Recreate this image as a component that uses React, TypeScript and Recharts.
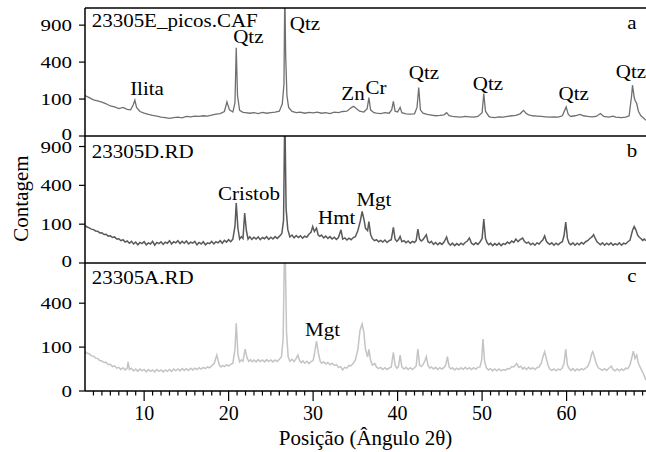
import React from 'react';
import { LineChart, Line, XAxis, YAxis, ReferenceLine, ReferenceDot } from 'recharts';

const FONT = '"Liberation Serif", "Times New Roman", serif';

// X axis (2θ)
const xDomain: [number, number] = [3, 69.4];
const majorXTicks = [10, 20, 30, 40, 50, 60];
const allXTicks = [4, 5, 6, 7, 8, 9, 10, 11, 12, 13, 14, 15, 16, 17, 18, 19, 20, 21, 22, 23, 24, 25, 26, 27, 28, 29, 30, 31, 32, 33, 34, 35, 36, 37, 38, 39, 40, 41, 42, 43, 44, 45, 46, 47, 48, 49, 50, 51, 52, 53, 54, 55, 56, 57, 58, 59, 60, 61, 62, 63, 64, 65, 66, 67, 68, 69];

// Y axis ticks (square-root count scale)
const yTicksAB = [0, 100, 400, 900];
const yTicksC = [0, 100, 400];
const yDomainA: [number, number] = [0, 1200];
const yDomainB: [number, number] = [0, 1070];
const yDomainC: [number, number] = [0, 850];

// Panel a: 23305E_picos.CAF  [2θ, counts]
const patternA: [number, number][] = [
  [3, 120], [3.5, 108], [4, 96], [4.5, 90], [5, 84], [5.5, 76], [6, 66], [6.5, 62], [7, 55], [7.5, 60], [8, 52], [8.4, 50], [8.7, 70], [8.9, 94], [9.1, 60], [9.5, 44],
  [10, 38], [10.5, 34], [11, 31], [11.5, 29], [12, 26], [12.5, 25], [13, 23], [13.5, 25], [14, 26], [14.5, 24], [15, 28], [15.5, 27], [16, 29], [16.5, 28], [17, 30], [17.5, 29],
  [18, 32], [18.5, 35], [19, 37], [19.5, 44], [19.8, 85], [20.1, 50], [20.5, 42], [20.75, 80], [20.9, 569], [21.05, 120], [21.3, 48], [21.7, 41], [22, 40], [22.5, 38], [23, 40],
  [23.5, 37], [24, 41], [24.5, 38], [25, 40], [25.5, 42], [26, 45], [26.35, 75], [26.55, 200], [26.65, 1600], [26.75, 480], [26.9, 120], [27.1, 60], [27.5, 44], [28, 40],
  [28.5, 42], [29, 38], [29.5, 41], [30, 39], [30.5, 42], [31, 38], [31.5, 40], [32, 37], [32.5, 42], [33, 40], [33.5, 44], [34, 45], [34.5, 58], [34.8, 65], [35.1, 55],
  [35.5, 45], [36, 42], [36.4, 55], [36.6, 108], [36.8, 50], [37.2, 40], [37.5, 38], [38, 37], [38.5, 40], [39, 38], [39.3, 50], [39.5, 88], [39.7, 45], [40, 42], [40.3, 60],
  [40.5, 40], [41, 36], [41.5, 35], [42, 36], [42.3, 60], [42.5, 172], [42.7, 50], [43, 38], [43.5, 34], [44, 32], [44.5, 30], [45, 31], [45.5, 33], [45.8, 40], [46.1, 30],
  [46.5, 28], [47, 27], [47.5, 26], [48, 28], [48.5, 27], [49, 26], [49.5, 28], [50, 40], [50.2, 132], [50.4, 45], [50.8, 28], [51, 26], [51.5, 25], [52, 27], [52.5, 26],
  [53, 28], [53.5, 30], [54, 31], [54.5, 36], [54.9, 48], [55.2, 38], [55.5, 33], [56, 30], [56.5, 29], [57, 28], [57.5, 27], [58, 26], [58.5, 27], [59, 26], [59.5, 30],
  [59.8, 50], [59.95, 62], [60.2, 34], [60.5, 28], [61, 30], [61.6, 34], [62, 30], [62.5, 28], [63, 27], [63.5, 28], [64, 37], [64.4, 28], [65, 26], [65.5, 29], [65.8, 26],
  [66.5, 25], [67, 26], [67.4, 30], [67.7, 120], [67.8, 189], [68, 110], [68.1, 94], [68.3, 77], [68.5, 45], [68.8, 30], [69, 26], [69.4, 18],
];

// Panel b: 23305D.RD
const patternB: [number, number][] = [
  [3, 93], [3.25, 86], [3.5, 82], [3.75, 76], [4, 74], [4.25, 68], [4.5, 67], [4.75, 60], [5, 61], [5.25, 54], [5.5, 55], [5.75, 48], [6, 49], [6.25, 43], [6.5, 45], [6.75, 38],
  [7, 39], [7.25, 33], [7.5, 36], [7.75, 29], [8, 32], [8.25, 26], [8.5, 31], [8.75, 24], [9, 29], [9.25, 22], [9.5, 28], [9.75, 25], [10, 30], [10.25, 22], [10.5, 27],
  [10.75, 24], [11, 31], [11.25, 21], [11.5, 28], [11.75, 25], [12, 30], [12.25, 23], [12.5, 29], [12.75, 26], [13, 33], [13.25, 24], [13.5, 30], [13.75, 27], [14, 33],
  [14.25, 25], [14.5, 31], [14.75, 26], [15, 32], [15.25, 24], [15.5, 29], [15.75, 26], [16, 31], [16.25, 22], [16.5, 28], [16.75, 24], [17, 30], [17.25, 22], [17.5, 27],
  [17.75, 25], [18, 31], [18.25, 24], [18.5, 30], [18.75, 27], [19, 33], [19.25, 26], [19.5, 34], [19.75, 29], [20, 36], [20.25, 30], [20.5, 38], [20.75, 90], [20.9, 238],
  [21.1, 80], [21.3, 38], [21.5, 46], [21.7, 40], [21.9, 165], [22.1, 70], [22.3, 38], [22.5, 46], [22.75, 37], [23, 44], [23.25, 38], [23.5, 45], [23.75, 36], [24, 43],
  [24.25, 39], [24.5, 46], [24.75, 37], [25, 44], [25.25, 38], [25.5, 46], [25.75, 40], [26, 47], [26.3, 58], [26.5, 120], [26.65, 1600], [26.8, 200], [27, 75], [27.25, 45],
  [27.5, 52], [27.75, 42], [28, 50], [28.25, 43], [28.5, 49], [28.75, 41], [29, 48], [29.25, 44], [29.5, 55], [29.75, 62], [29.95, 88], [30.15, 66], [30.4, 81], [30.6, 52],
  [30.8, 47], [31, 52], [31.25, 42], [31.5, 48], [31.75, 40], [32, 46], [32.25, 38], [32.5, 44], [32.75, 37], [33, 43], [33.3, 73], [33.5, 38], [33.75, 42], [34, 35],
  [34.25, 41], [34.5, 36], [34.75, 43], [35, 46], [35.3, 70], [35.6, 120], [35.8, 176], [36, 130], [36.2, 80], [36.45, 70], [36.6, 114], [36.8, 55], [37, 40], [37.25, 33],
  [37.5, 36], [37.75, 30], [38, 34], [38.25, 29], [38.5, 35], [38.75, 28], [39, 33], [39.25, 36], [39.5, 84], [39.7, 38], [39.9, 31], [40.1, 36], [40.3, 47], [40.5, 30],
  [40.75, 33], [41, 27], [41.25, 32], [41.5, 26], [41.75, 31], [42, 28], [42.2, 34], [42.4, 76], [42.6, 38], [42.8, 32], [43, 36], [43.4, 53], [43.6, 30], [43.8, 27],
  [44, 31], [44.25, 23], [44.5, 28], [44.75, 22], [45, 27], [45.25, 23], [45.5, 29], [45.8, 45], [46, 27], [46.25, 21], [46.5, 26], [46.75, 20], [47, 25], [47.25, 21],
  [47.5, 26], [47.75, 22], [48, 28], [48.25, 32], [48.5, 41], [48.75, 26], [49, 22], [49.25, 27], [49.5, 23], [49.75, 29], [50, 40], [50.2, 128], [50.4, 40], [50.6, 27],
  [50.8, 22], [51, 26], [51.25, 20], [51.5, 25], [51.75, 21], [52, 26], [52.25, 20], [52.5, 25], [52.75, 23], [53, 29], [53.25, 25], [53.5, 32], [53.75, 28], [54, 38],
  [54.25, 30], [54.5, 36], [54.8, 41], [55, 31], [55.25, 26], [55.5, 29], [55.75, 22], [56, 26], [56.25, 21], [56.5, 27], [56.75, 24], [57, 31], [57.2, 36], [57.4, 49],
  [57.6, 32], [57.8, 26], [58, 23], [58.25, 27], [58.5, 21], [58.75, 26], [59, 22], [59.25, 27], [59.5, 30], [59.7, 50], [59.9, 111], [60.1, 40], [60.3, 26], [60.5, 22],
  [60.75, 27], [61, 21], [61.25, 26], [61.5, 22], [61.75, 28], [62, 24], [62.25, 30], [62.5, 33], [62.75, 40], [63, 45], [63.2, 53], [63.4, 40], [63.6, 30], [63.8, 26],
  [64, 22], [64.25, 27], [64.5, 21], [64.75, 26], [65, 22], [65.25, 27], [65.5, 21], [65.75, 25], [66, 22], [66.25, 27], [66.5, 21], [66.75, 26], [67, 24], [67.25, 30],
  [67.5, 34], [67.8, 70], [68, 88], [68.2, 73], [68.4, 52], [68.6, 44], [68.8, 40], [69, 34], [69.2, 38], [69.4, 33],
];

// Panel c: 23305A.RD
const patternC: [number, number][] = [
  [3, 80], [3.25, 74], [3.5, 72], [3.75, 64], [4, 63], [4.25, 56], [4.5, 55], [4.75, 48], [5, 47], [5.25, 42], [5.5, 43], [5.75, 36], [6, 37], [6.25, 31], [6.5, 33],
  [6.75, 27], [7, 29], [7.25, 24], [7.5, 28], [7.75, 23], [8, 27], [8.1, 44], [8.25, 24], [8.5, 27], [8.75, 21], [9, 25], [9.25, 20], [9.5, 25], [9.75, 21], [10, 24],
  [10.25, 19], [10.5, 24], [10.75, 20], [11, 23], [11.25, 19], [11.5, 24], [11.75, 20], [12, 23], [12.25, 19], [12.5, 23], [12.75, 20], [13, 24], [13.25, 20], [13.5, 25],
  [13.75, 21], [14, 25], [14.25, 21], [14.5, 26], [14.75, 22], [15, 26], [15.25, 22], [15.5, 27], [15.75, 23], [16, 27], [16.25, 24], [16.5, 28], [16.75, 25], [17, 29],
  [17.25, 26], [17.5, 30], [17.75, 28], [18, 33], [18.3, 40], [18.6, 67], [18.9, 35], [19.1, 30], [19.3, 34], [19.5, 31], [19.75, 36], [20, 32], [20.25, 37], [20.5, 40],
  [20.75, 90], [20.9, 238], [21.1, 70], [21.3, 44], [21.5, 50], [21.7, 46], [21.95, 91], [22.2, 55], [22.4, 45], [22.6, 51], [22.8, 44], [23, 50], [23.25, 44], [23.5, 51],
  [23.75, 45], [24, 50], [24.25, 44], [24.5, 51], [24.75, 45], [25, 50], [25.25, 44], [25.5, 50], [25.75, 45], [26, 52], [26.25, 60], [26.45, 140], [26.65, 1400],
  [26.85, 180], [27.05, 60], [27.25, 46], [27.5, 52], [27.75, 45], [28, 55], [28.2, 67], [28.4, 48], [28.6, 42], [28.8, 47], [29, 40], [29.25, 46], [29.5, 39], [29.75, 45],
  [30, 48], [30.15, 70], [30.4, 129], [30.65, 70], [30.85, 45], [31, 40], [31.25, 44], [31.5, 38], [31.75, 42], [32, 36], [32.25, 40], [32.5, 34], [32.75, 36], [33, 29],
  [33.25, 31], [33.5, 23], [33.75, 29], [34, 27], [34.25, 34], [34.5, 33], [34.75, 40], [35, 50], [35.3, 90], [35.55, 190], [35.8, 233], [36, 180], [36.2, 90], [36.45, 60],
  [36.6, 90], [36.8, 50], [37, 35], [37.3, 39], [37.5, 30], [37.75, 26], [38, 29], [38.25, 24], [38.5, 28], [38.75, 24], [39, 27], [39.25, 30], [39.5, 77], [39.7, 35],
  [39.9, 27], [40.1, 31], [40.3, 67], [40.5, 30], [40.75, 25], [41, 29], [41.25, 24], [41.5, 28], [41.75, 24], [42, 28], [42.2, 33], [42.4, 91], [42.6, 35], [42.8, 31],
  [43, 36], [43.2, 45], [43.4, 61], [43.6, 34], [43.8, 27], [44, 30], [44.25, 25], [44.5, 29], [44.75, 24], [45, 28], [45.25, 25], [45.5, 29], [45.7, 35], [45.9, 61],
  [46.1, 30], [46.3, 25], [46.5, 28], [46.75, 23], [47, 27], [47.25, 24], [47.5, 28], [47.75, 24], [48, 29], [48.25, 25], [48.5, 28], [48.75, 24], [49, 28], [49.25, 25],
  [49.5, 29], [49.75, 30], [49.95, 50], [50.1, 140], [50.3, 45], [50.5, 28], [50.75, 23], [51, 26], [51.25, 21], [51.5, 25], [51.75, 21], [52, 25], [52.25, 21], [52.5, 24],
  [52.75, 22], [53, 26], [53.25, 25], [53.5, 31], [53.75, 30], [54.1, 39], [54.35, 29], [54.6, 32], [54.8, 25], [55, 29], [55.25, 24], [55.5, 29], [55.75, 25], [56, 28],
  [56.25, 24], [56.5, 28], [56.75, 30], [57, 40], [57.2, 60], [57.4, 80], [57.6, 55], [57.8, 35], [58, 25], [58.25, 22], [58.5, 25], [58.75, 21], [59, 25], [59.25, 23],
  [59.5, 28], [59.7, 40], [59.9, 91], [60.1, 35], [60.3, 26], [60.5, 22], [60.75, 26], [61, 21], [61.25, 25], [61.5, 22], [61.75, 26], [62, 23], [62.25, 27], [62.5, 31],
  [62.75, 45], [62.95, 70], [63.1, 80], [63.3, 60], [63.5, 40], [63.75, 28], [64, 25], [64.25, 22], [64.5, 26], [64.75, 22], [65, 27], [65.3, 32], [65.5, 24], [65.75, 21],
  [66, 25], [66.25, 21], [66.5, 25], [66.75, 22], [67, 27], [67.25, 26], [67.5, 35], [67.7, 55], [67.9, 82], [68.1, 55], [68.3, 67], [68.5, 40], [68.7, 30], [68.9, 22],
  [69.1, 15], [69.25, 10], [69.4, 6],
];

type Ann = { text: string; x: number; y: number; anchor: 'start' | 'middle' };

const annotationsA: Ann[] = [
  { text: '23305E_picos.CAF', x: 3.79, y: 875, anchor: 'start' },
  { text: 'a', x: 67.74, y: 839, anchor: 'middle' },
  { text: 'Ilita', x: 10.34, y: 121, anchor: 'middle' },
  { text: 'Qtz', x: 22.33, y: 629, anchor: 'middle' },
  { text: 'Qtz', x: 29.04, y: 823, anchor: 'middle' },
  { text: 'Zn', x: 34.72, y: 95, anchor: 'middle' },
  { text: 'Cr', x: 37.44, y: 127, anchor: 'middle' },
  { text: 'Qtz', x: 43.12, y: 235, anchor: 'middle' },
  { text: 'Qtz', x: 50.69, y: 155, anchor: 'middle' },
  { text: 'Qtz', x: 60.84, y: 95, anchor: 'middle' },
  { text: 'Qtz', x: 67.62, y: 244, anchor: 'middle' },
];

const annotationsB: Ann[] = [
  { text: '23305D.RD', x: 3.79, y: 727, anchor: 'start' },
  { text: 'b', x: 67.74, y: 750, anchor: 'middle' },
  { text: 'Cristob', x: 22.41, y: 263, anchor: 'middle' },
  { text: 'Hmt', x: 32.79, y: 99, anchor: 'middle' },
  { text: 'Mgt', x: 37.2, y: 219, anchor: 'middle' },
];

const annotationsC: Ann[] = [
  { text: '23305A.RD', x: 3.79, y: 591, anchor: 'start' },
  { text: 'c', x: 67.74, y: 613, anchor: 'middle' },
  { text: 'Mgt', x: 31.11, y: 157, anchor: 'middle' },
];

const toRows = (p: [number, number][]) => p.map(([x, y]) => ({ x, y }));

const YTick = (props: any) => {
  const { x, y, payload, raiseZero } = props;
  const shift = raiseZero && payload.value === 0 ? -2 : 0;
  return (
    <text
      transform={`translate(${x},${y + 6 + shift}) scale(1,0.83)`}
      textAnchor="end"
      fontFamily={FONT}
      fontSize={21}
      fill="#000"
    >
      {payload.value}
    </text>
  );
};

const XTick = (props: any) => {
  const { x, y, payload } = props;
  const v = payload.value;
  const major = majorXTicks.includes(v);
  return (
    <g>
      <line x1={x} x2={x} y1={y} y2={y + (major ? 10 : 4.5)} stroke="#000" strokeWidth={1.2} />
      {major && (
        <text x={x} y={y + 29} textAnchor="middle" fontFamily={FONT} fontSize={20} fill="#000">
          {v}
        </text>
      )}
    </g>
  );
};

const annLabel = (a: Ann) => (p: any) => {
  const vb = p.viewBox || {};
  const cx = vb.x + (vb.width || 0) / 2;
  const cy = vb.y + (vb.height || 0) / 2;
  return (
    <text
      transform={`translate(${cx},${cy}) scale(1,0.85)`}
      textAnchor={a.anchor}
      fontFamily={FONT}
      fontSize={21}
      fill="#000"
    >
      {a.text}
    </text>
  );
};

type PanelProps = {
  top: number;
  height: number;
  margin: { top: number; right: number; bottom: number; left: number };
  pattern: [number, number][];
  domain: [number, number];
  ticks: number[];
  color: string;
  width: number;
  annotations: Ann[];
  showX?: boolean;
  yLabel?: boolean;
  raiseZero?: boolean;
};

const Panel = ({ top, height, margin, pattern, domain, ticks, color, width, annotations, showX, yLabel, raiseZero }: PanelProps) => (
  <div style={{ position: 'absolute', left: 0, top, width: 646, height }}>
    <LineChart width={646} height={height} margin={margin} data={toRows(pattern)}>
      <XAxis
        type="number"
        dataKey="x"
        domain={xDomain}
        allowDataOverflow
        hide={!showX}
        ticks={allXTicks}
        interval={0}
        tickSize={0}
        tickMargin={0}
        tickLine={false}
        tick={<XTick />}
        height={61}
        axisLine={{ stroke: '#000', strokeWidth: 1.5 }}
        label={
          showX
            ? {
                content: (p: any) => {
                  const vb = p.viewBox || {};
                  return (
                    <text
                      x={vb.x + vb.width / 2}
                      y={vb.y + 54}
                      textAnchor="middle"
                      fontFamily={FONT}
                      fontSize={21}
                      fill="#000"
                    >
                      Posição (Ângulo 2θ)
                    </text>
                  );
                },
              }
            : undefined
        }
      />
      <YAxis
        type="number"
        scale="sqrt"
        domain={domain}
        allowDataOverflow
        ticks={ticks}
        interval={0}
        width={85}
        tickSize={6}
        tickMargin={7}
        tick={<YTick raiseZero={raiseZero} />}
        tickLine={{ stroke: '#000', strokeWidth: 1.2 }}
        axisLine={{ stroke: '#000', strokeWidth: 1.5 }}
        label={
          yLabel
            ? {
                content: (p: any) => {
                  const vb = p.viewBox || {};
                  const cy = vb.y + vb.height / 2 - 1;
                  return (
                    <text
                      transform={`translate(${vb.x + 28},${cy}) rotate(-90)`}
                      textAnchor="middle"
                      fontFamily={FONT}
                      fontSize={21}
                      fill="#000"
                    >
                      Contagem
                    </text>
                  );
                },
              }
            : undefined
        }
      />
      <Line
        type="linear"
        dataKey="y"
        stroke={color}
        strokeWidth={width}
        dot={false}
        activeDot={false}
        isAnimationActive={false}
      />
      <ReferenceLine y={domain[1]} stroke="#000" strokeWidth={1.5} ifOverflow="extendDomain" />
      {annotations.map((a, i) => (
        <ReferenceDot
          key={i}
          x={a.x}
          y={a.y}
          r={0}
          fill="none"
          stroke="none"
          isFront
          label={{ content: annLabel(a) }}
        />
      ))}
    </LineChart>
  </div>
);

export default function App() {
  return (
    <div style={{ position: 'absolute', left: 0, top: 0, width: 646, height: 452, background: '#fff', overflow: 'hidden' }}>
      <Panel
        top={0}
        height={150}
        margin={{ top: 8, right: 0, bottom: 14, left: 0 }}
        pattern={patternA}
        domain={yDomainA}
        ticks={yTicksAB}
        color="#707070"
        width={1.3}
        annotations={annotationsA}
        raiseZero
      />
      <Panel
        top={122}
        height={155}
        margin={{ top: 14, right: 0, bottom: 14, left: 0 }}
        pattern={patternB}
        domain={yDomainB}
        ticks={yTicksAB}
        color="#5a5a5a"
        width={1.5}
        annotations={annotationsB}
        yLabel
        raiseZero
      />
      <Panel
        top={249}
        height={203}
        margin={{ top: 14, right: 0, bottom: 0, left: 0 }}
        pattern={patternC}
        domain={yDomainC}
        ticks={yTicksC}
        color="#c4c4c4"
        width={1.5}
        annotations={annotationsC}
        showX
      />
    </div>
  );
}
